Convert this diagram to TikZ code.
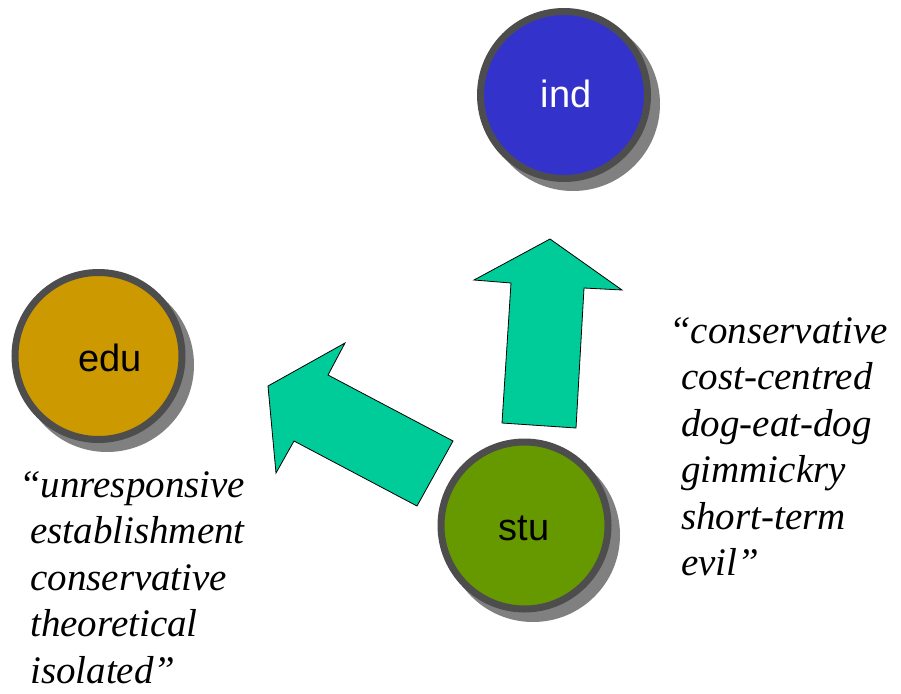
\documentclass[tikz,border=0pt]{standalone}
\usepackage{fontspec}
\setmainfont{Liberation Serif}
\newfontfamily\labelfont{Liberation Sans}
\definecolor{indblue}{HTML}{3333CC}
\definecolor{edugold}{HTML}{CC9900}
\definecolor{stugreen}{HTML}{669900}
\definecolor{arrowteal}{HTML}{00CC99}
\definecolor{ringgrey}{HTML}{4D4D4D}
\definecolor{shadowgrey}{HTML}{808080}
\tikzset{
  bubble/.style={circle, draw=ringgrey, line width=7pt, minimum size=167pt, inner sep=0pt},
  bubbleshadow/.style={circle, fill=shadowgrey, minimum size=174pt, inner sep=0pt},
  bubbletext/.style={font=\labelfont\fontsize{38}{44}\selectfont, inner sep=0pt},
  blockarrow/.style={fill=arrowteal, draw=black, line width=0.8pt, line join=miter},
  quote/.style={font=\fontsize{39}{46.5}\selectfont\itshape, align=left, inner sep=0pt, anchor=north west}
}
\begin{document}
\begin{tikzpicture}[x=1pt,y=-1pt]
\useasboundingbox (0,0) rectangle (901,693);
% shadows
\node[bubbleshadow] (indsh) at (573,104) {};
\node[bubbleshadow] (edush) at (107,365) {};
\node[bubbleshadow] (stush) at (533,535) {};
% circles
\node[bubble, fill=indblue] (ind) at (564,95) {};
\node[bubble, fill=edugold] (edu) at (98.5,356) {};
\node[bubble, fill=stugreen] (stu) at (524.5,525.5) {};
\node[bubbletext, text=white] (indlbl) at (566,94) {ind};
\node[bubbletext] (edulbl) at (110,358) {edu};
\node[bubbletext] (stulbl) at (524,528) {stu};
% block arrows
\draw[blockarrow] (550,239) -- (622,290) -- (584,288) -- (576,428) -- (502,423) -- (511,283) -- (474,280) -- cycle;
\draw[blockarrow] (268,386) -- (345,343) -- (328,375) -- (453,441) -- (417,506) -- (294,441) -- (276,473) -- cycle;
% quotes
\node[quote] (indq) at (681,317) {\hspace{-12pt}“conservative\\cost-centred\\dog-eat-dog\\gimmickry\\short-term\\evil”};
\node[quote] (eduq) at (30,471) {\hspace{-11pt}“unresponsive\\establishment\\conservative\\theoretical\\isolated”};
\end{tikzpicture}
\end{document}
